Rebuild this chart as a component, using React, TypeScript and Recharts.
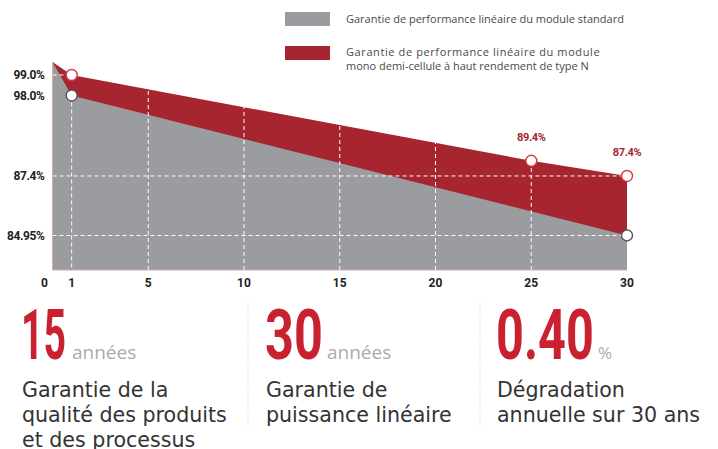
import { Area, AreaChart, LabelList, ReferenceLine, XAxis, YAxis } from "recharts";

const years = [0, 1, 25, 30];
const standardValues = [100, 98, null, 84.95];
const typeNValues = [100, 99, 89.4, 87.4];
const labelledYears = [25, 30];

const xTicks = [0, 1, 5, 10, 15, 20, 25, 30];
const gridYears = [5, 10, 15, 20, 25];
const yTicks = [99, 98, 87.4, 84.95];
const yTickLabels = ["99.0%", "98.0%", "87.4%", "84.95%"];
const yFloor = 83.5;
const yTop = 100;

const legendLabels = [
  ["Garantie de performance linéaire du module standard"],
  ["Garantie de performance linéaire du module", "mono demi-cellule à haut rendement de type N"],
];

const statValues = ["15", "30", "0.40"];
const statUnits = ["années", "années", "%"];
const statLines = [
  ["Garantie de la", "qualité des produits", "et des processus"],
  ["Garantie de", "puissance linéaire"],
  ["Dégradation", "annuelle sur 30 ans"],
];

const GREY = "#9a9c9f";
const RED = "#a7252e";
const BRIGHT_RED = "#c9212f";

const data = years.map((year, i) => ({
  year,
  standard: standardValues[i],
  typeN: typeNValues[i],
}));

// l'axe Y de l'original n'est pas linéaire : échelle par morceaux (part de la hauteur)
const yKnots = [yFloor, 84.95, 87.4, 98, 99, yTop];
const yShares = [0, 0.166, 0.452, 0.839, 0.9375, 1];

function brokenScale(): any {
  let dom = [yFloor, yTop];
  let rng = [0, 1];
  const s: any = (v: number) => {
    let i = 0;
    while (i < yKnots.length - 2 && v > yKnots[i + 1]) i++;
    const t = (v - yKnots[i]) / (yKnots[i + 1] - yKnots[i]);
    const share = yShares[i] + t * (yShares[i + 1] - yShares[i]);
    return rng[0] + share * (rng[1] - rng[0]);
  };
  s.domain = (d?: number[]) => {
    if (d === undefined) return dom.slice();
    dom = d.slice();
    return s;
  };
  s.range = (r?: number[]) => {
    if (r === undefined) return rng.slice();
    rng = r.slice();
    return s;
  };
  s.copy = () => brokenScale().domain(dom).range(rng);
  s.ticks = () => yTicks.slice();
  s.tickFormat = () => (v: number) => String(v);
  s.nice = () => s;
  s.clamp = () => s;
  return s;
}

const hollowDot = (stroke: string) => (props: any) => {
  const { cx, cy, index } = props;
  if (index === 0 || cx == null || cy == null || Number.isNaN(cy)) {
    return <g key={`dot-${index}`} />;
  }
  return (
    <circle key={`dot-${index}`} cx={cx} cy={cy} r={5.5} fill="#fff" stroke={stroke} strokeWidth={1.4} />
  );
};

const tickFont = { fontFamily: "Roboto, sans-serif", fontWeight: 700, fontSize: 12 };

function XTick(props: any) {
  const { x, y, payload } = props;
  return (
    <text
      x={x + (payload.value === 0 ? -8 : 0)}
      y={y}
      dy="0.71em"
      textAnchor="middle"
      fill="#222"
      {...tickFont}
    >
      {payload.value}
    </text>
  );
}

const gridLine = { stroke: "#fff", strokeDasharray: "4 3", strokeWidth: 1, ifOverflow: "extendDomain" as const };

// gros chiffres : police étroite simulée par un scaleX
const statX = [21, 265, 496];
const statSqueeze = [0.56, 0.72, 0.695];
const unitX = [72, 327, 598];

export default function App() {
  return (
    <div
      style={{
        position: "absolute",
        left: 0,
        top: 0,
        width: 718,
        height: 449,
        background: "#fff",
        overflow: "hidden",
      }}
    >
      <AreaChart
        width={718}
        height={300}
        data={data}
        margin={{ top: 62, right: 91, bottom: 0, left: 7.5 }}
      >
        <XAxis
          dataKey="year"
          type="number"
          domain={[0, 30]}
          ticks={xTicks}
          interval={0}
          height={30}
          tickLine={false}
          axisLine={{ stroke: "#d9a9ad" }}
          tick={<XTick />}
        />
        <YAxis
          type="number"
          width={45}
          domain={[yFloor, yTop]}
          allowDataOverflow
          scale={brokenScale()}
          ticks={yTicks}
          interval={0}
          tickLine={false}
          axisLine={{ stroke: "#d9a9ad" }}
          tick={{ fill: "#222", letterSpacing: -0.4, ...tickFont }}
          tickFormatter={(v: number) => yTickLabels[yTicks.indexOf(v)] ?? String(v)}
        />
        <Area
          type="linear"
          dataKey="typeN"
          stroke="none"
          fill={RED}
          fillOpacity={1}
          baseValue={yFloor}
          dot={hollowDot("#d33a43")}
          activeDot={false}
          isAnimationActive={false}
        >
          <LabelList
            dataKey="typeN"
            content={(p: any) =>
              labelledYears.includes(data[p.index]?.year) ? (
                <text
                  key={`lbl-${p.index}`}
                  x={p.x}
                  y={p.y - 20}
                  textAnchor="middle"
                  fill={RED}
                  letterSpacing={-0.4}
                  {...tickFont}
                  fontSize={11}
                >
                  {`${p.value}%`}
                </text>
              ) : null
            }
          />
        </Area>
        <Area
          type="linear"
          dataKey="standard"
          stroke="none"
          fill={GREY}
          fillOpacity={1}
          baseValue={yFloor}
          connectNulls
          dot={hollowDot("#555")}
          activeDot={false}
          isAnimationActive={false}
        />
        {gridYears.map((yr) => (
          <ReferenceLine key={`vx-${yr}`} x={yr} {...gridLine} />
        ))}
        <ReferenceLine
          segment={[
            { x: years[1], y: standardValues[1] as number },
            { x: years[1], y: yFloor },
          ]}
          {...gridLine}
        />
        <ReferenceLine
          segment={[
            { x: years[0], y: typeNValues[1] },
            { x: years[1], y: typeNValues[1] },
          ]}
          {...gridLine}
        />
        {yTicks.slice(2).map((v) => (
          <ReferenceLine key={`hy-${v}`} y={v} {...gridLine} />
        ))}
      </AreaChart>

      <svg
        width={718}
        height={449}
        style={{ position: "absolute", left: 0, top: 0, pointerEvents: "none" }}
      >
        {/* légende */}
        <rect x={285} y={12} width={45} height={14} fill={GREY} />
        <rect x={285} y={46} width={45} height={14} fill={RED} />
        <g fontFamily="'Open Sans', sans-serif" fontSize={11} fill="#4a4a4a">
          <text x={346} y={23}>{legendLabels[0][0]}</text>
          <text x={346} y={56} letterSpacing={0.6}>{legendLabels[1][0]}</text>
          <text x={346} y={70}>{legendLabels[1][1]}</text>
        </g>

        {/* séparateurs */}
        {[248, 480].map((x) => (
          <line key={x} x1={x} x2={x} y1={302} y2={428} stroke="#c8c8c8" strokeDasharray="1 2" />
        ))}

        {/* chiffres clés */}
        {statValues.map((v, i) => (
          <g key={v}>
            <g transform={`translate(${statX[i]},359) scale(${statSqueeze[i]},1)`}>
              <text
                x={0}
                y={0}
                fontFamily="Roboto, sans-serif"
                fontWeight={700}
                fontSize={70}
                fill={BRIGHT_RED}
              >
                {v}
              </text>
            </g>
            <text
              x={unitX[i]}
              y={359}
              fontFamily="'Open Sans', sans-serif"
              fontSize={statUnits[i] === "%" ? 17 : 19}
              fill="#a9abb0"
            >
              {statUnits[i]}
            </text>
            {statLines[i].map((line, j) => (
              <text
                key={line}
                x={statX[i] + 1}
                y={397 + j * 25}
                fontFamily="'DejaVu Sans', sans-serif"
                fontSize={20.6}
                fill="#333"
              >
                {line}
              </text>
            ))}
          </g>
        ))}
      </svg>
    </div>
  );
}
